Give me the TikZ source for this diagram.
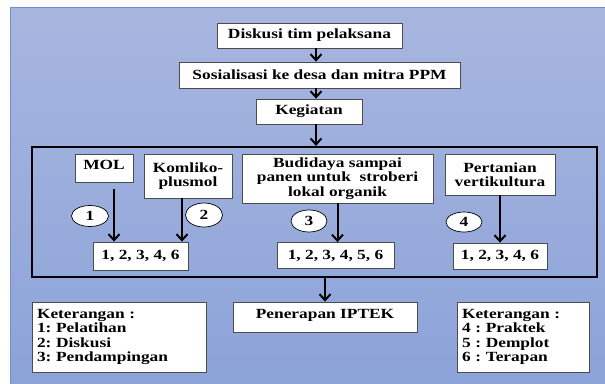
\documentclass[tikz,border=0pt]{standalone}
\usepackage{fontspec}
\newfontfamily\tebal{Liberation Serif}[UprightFont={* Bold}, FakeStretch=1.24]
\usetikzlibrary{arrows.meta,shapes.geometric,calc}
\definecolor{latatas}{RGB}{168,182,223}
\definecolor{latbawah}{RGB}{140,163,217}
\definecolor{tepi}{RGB}{118,140,200}

\begin{document}
\frenchspacing
\begin{tikzpicture}[x=1pt,y=-1pt,font=\fontsize{14}{14.5}\tebal]
% Gaya untuk komponen
\tikzstyle{kotak} = [rectangle, draw=black!70, fill=white, line width=0.8pt, inner sep=2pt, align=center]
\tikzstyle{bulat} = [ellipse, draw=black, fill=white, line width=0.7pt, inner sep=0pt]
\tikzstyle{panah} = [-{Straight Barb[length=6pt,width=11pt,line width=2pt]}, line width=2pt]

\useasboundingbox (0,0) rectangle (605,383);
\fill[top color=latatas, bottom color=latbawah] (10,7) rectangle (605,383);
\draw[tepi, line width=0.8pt] (10,383) -- (10,7) -- (605,7);

% Alur atas
\node[kotak, minimum width=185pt, minimum height=25pt] (diskusi) at (309.5,35.5) {Diskusi tim pelaksana};
\node[kotak, minimum width=281pt, minimum height=26pt] (sosial) at (319.5,75) {Sosialisasi ke desa dan mitra PPM};
\node[kotak, minimum width=106pt, minimum height=25pt] (kegiatan) at (309,111.5) {Kegiatan};
\coordinate (poros) at (316,0);

% Wadah kegiatan
\node[draw=black, line width=2.2pt, minimum width=565pt, minimum height=130pt] (wadah) at (314.5,212) {};

\node[kotak, minimum width=58pt, minimum height=28pt, text depth=7pt] (mol) at (104,168) {MOL};
\node[kotak, minimum width=88pt, minimum height=44pt] (komliko) at (188,176) {Komliko-\\plusmol};
\node[kotak, minimum width=191pt, minimum height=49pt] (budidaya) at (337.5,178.5) {Budidaya sampai\\panen untuk\ \ stroberi\\lokal organik};
\node[kotak, minimum width=110pt, minimum height=41pt] (pertanian) at (500,174.5) {Pertanian\\vertikultura};

\node[bulat, minimum width=37pt, minimum height=21pt] (b1) at (90,216) {1};
\node[bulat, minimum width=37pt, minimum height=24pt] (b2) at (204,215) {2};
\node[bulat, minimum width=36pt, minimum height=22pt] (b3) at (309,221) {3};
\node[bulat, minimum width=36pt, minimum height=20pt] (b4) at (464,222) {4};

\node[kotak, minimum width=95pt, minimum height=28pt] (hasil1) at (140.5,256) {1, 2, 3, 4, 6};
\node[kotak, minimum width=117pt, minimum height=26pt] (hasil2) at (335.5,255.5) {1, 2, 3, 4, 5, 6};
\node[kotak, minimum width=94pt, minimum height=26pt] (hasil3) at (500,256) {1, 2, 3, 4, 6};

% Bagian bawah
\node[kotak, minimum width=184pt, minimum height=30pt, text depth=7pt] (penerapan) at (325,317) {Penerapan IPTEK};
\node[kotak, align=left, inner xsep=5pt, text width=164pt, minimum height=70pt] (ket1) at (119,337) {Keterangan :\\1: Pelatihan\\2: Diskusi\\3: Pendampingan};
\node[kotak, align=left, inner xsep=5pt, text width=122pt, minimum height=70pt] (ket2) at (523,337) {Keterangan :\\4 : Praktek\\5 : Demplot\\6 : Terapan};

% Panah
\draw[panah] (diskusi.south -| poros) -- (sosial.north -| poros);
\draw[panah] (sosial.south -| poros) -- (kegiatan.north -| poros);
\draw[panah] (kegiatan.south -| poros) -- (wadah.north -| poros);
\draw[panah] ($(mol.south)+(10,7)$) -- ($(mol.south |- hasil1.north)+(10,0)$);
\draw[panah] ($(komliko.south)+(-6,0)$) -- ($(komliko.south |- hasil1.north)+(-6,0)$);
\draw[panah] (budidaya.south) -- (budidaya.south |- hasil2.north);
\draw[panah] (pertanian.south) -- (pertanian.south |- hasil3.north);
\draw[panah] (wadah.south -| penerapan.north) -- (penerapan.north);
\end{tikzpicture}
\end{document}
